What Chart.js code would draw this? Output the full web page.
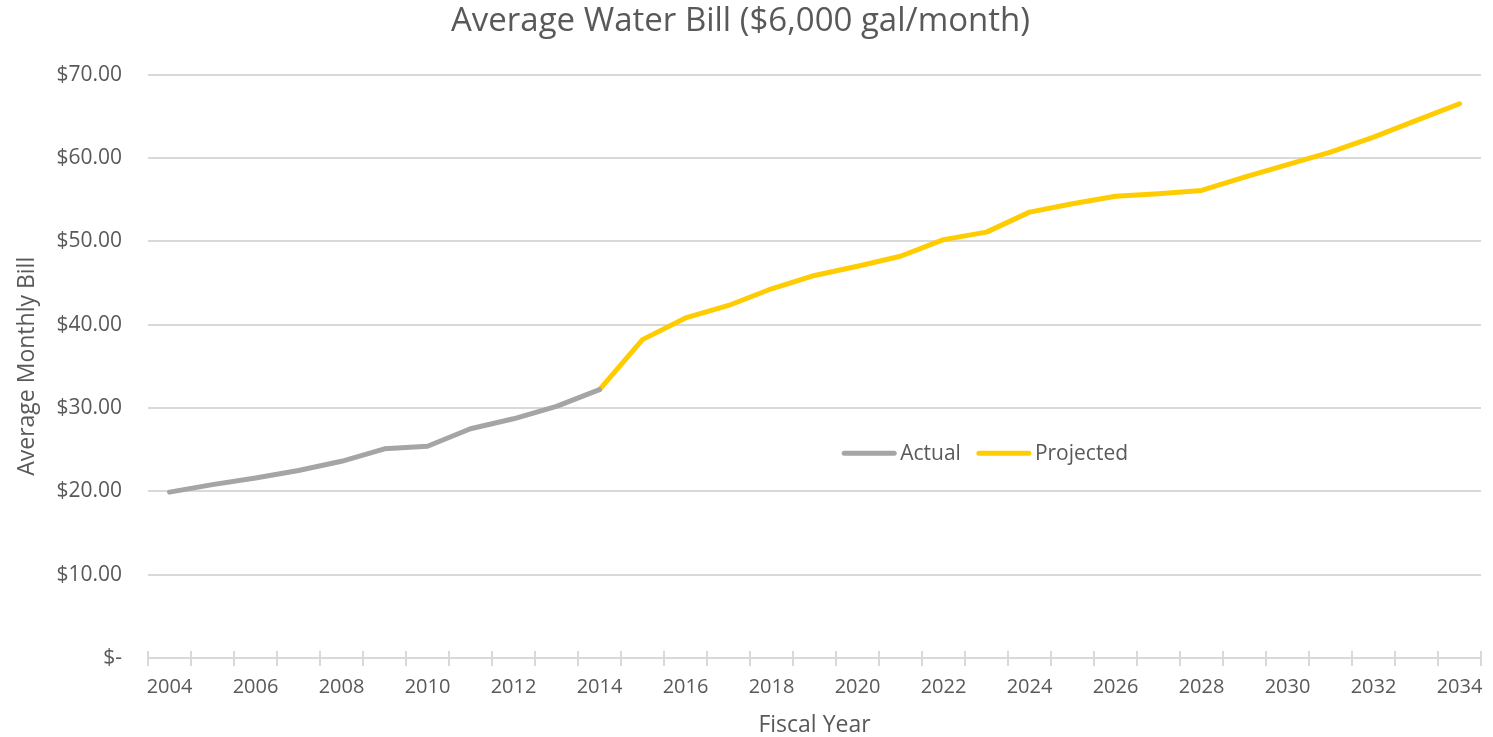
<!DOCTYPE html>
<html>
<head>
<meta charset="utf-8">
<script src="https://cdn.jsdelivr.net/npm/chart.js@4/dist/chart.umd.min.js"></script>
<style>
  html, body { margin: 0; padding: 0; background: #fff; }
  #wrap { width: 1493px; height: 737px; }
</style>
</head>
<body>
<div id="wrap"><canvas id="water-chart"></canvas></div>
<script>
// fiscal years on the x axis
const fiscalYears = ['2004', '2005', '2006', '2007', '2008', '2009', '2010', '2011', '2012', '2013',
    '2014', '2015', '2016', '2017', '2018', '2019', '2020', '2021', '2022', '2023', '2024',
    '2025', '2026', '2027', '2028', '2029', '2030', '2031', '2032', '2033', '2034'];

// actual bills, 2004 - 2014
const actualBill = [19.9, 20.8, 21.6, 22.5, 23.6, 25.1, 25.4, 27.5, 28.7, 30.2, 32.2,
    null, null, null, null, null, null, null, null, null, null,
    null, null, null, null, null, null, null, null, null, null];

// projected bills, 2014 - 2034
const projectedBill = [null, null, null, null, null, null, null, null, null, null, 32.2,
    38.2, 40.8, 42.3, 44.3, 45.9, 47.0, 48.2, 50.2, 51.1, 53.5,
    54.5, 55.4, 55.7, 56.1, 57.7, 59.2, 60.7, 62.5, 64.5, 66.5];

const seriesLabels = ['Actual', 'Projected'];

const textColor = '#595959';
const gridColor = '#D9D9D9';
const fontFamily = '"Open Sans", Lato, sans-serif';

// legend drawn inside the plot area, like the spreadsheet original
const innerLegend = {
    id: 'innerLegend',
    afterDraw(chart) {
        const ctx = chart.ctx;
        const area = chart.chartArea;
        const cx = area.left + (area.right - area.left) * 0.628;
        const cy = area.top + (area.bottom - area.top) * 0.649;
        const lineLen = 54;
        const gap = 4;
        const between = 16;

        ctx.save();
        ctx.font = '21px ' + fontFamily;
        ctx.textBaseline = 'middle';

        const items = chart.data.datasets.map(ds => ({
            label: ds.label,
            color: ds.borderColor,
            width: lineLen + gap + ctx.measureText(ds.label).width
        }));
        const total = items.reduce((sum, item) => sum + item.width, 0) + between * (items.length - 1);
        let x = cx - total / 2;

        items.forEach(item => {
            ctx.strokeStyle = item.color;
            ctx.lineWidth = 5;
            ctx.lineCap = 'round';
            ctx.beginPath();
            ctx.moveTo(x + 2, cy);
            ctx.lineTo(x + lineLen - 2, cy);
            ctx.stroke();
            ctx.fillStyle = textColor;
            ctx.fillText(item.label, x + lineLen + gap, cy + 1);
            x += item.width + between;
        });
        ctx.restore();
    }
};

// small tick marks that cross the x axis line
const crossTicks = {
    id: 'crossTicks',
    afterDatasetsDraw(chart) {
        const ctx = chart.ctx;
        const xScale = chart.scales.x;
        const y = chart.chartArea.bottom;
        const step = xScale.getPixelForValue(1) - xScale.getPixelForValue(0);

        ctx.save();
        ctx.strokeStyle = gridColor;
        ctx.lineWidth = 2;
        ctx.beginPath();
        for (let i = 0; i <= fiscalYears.length; i++) {
            const x = Math.round(xScale.getPixelForValue(0) - step / 2 + step * i);
            ctx.moveTo(x, y - 7);
            ctx.lineTo(x, y);
        }
        ctx.stroke();
        ctx.restore();
    }
};

const chart = new Chart(document.getElementById('water-chart').getContext('2d'), {
    type: 'line',
    data: {
        labels: fiscalYears,
        datasets: [{
            label: seriesLabels[0],
            data: actualBill,
            borderColor: '#A5A5A5',
            backgroundColor: '#A5A5A5',
            borderWidth: 5,
            borderCapStyle: 'round',
            borderJoinStyle: 'round',
            pointRadius: 0,
            tension: 0
        }, {
            label: seriesLabels[1],
            data: projectedBill,
            borderColor: '#FFCC00',
            backgroundColor: '#FFCC00',
            borderWidth: 5,
            borderCapStyle: 'round',
            borderJoinStyle: 'round',
            pointRadius: 0,
            tension: 0
        }]
    },
    options: {
        responsive: true,
        maintainAspectRatio: false,
        animation: false,
        layout: { padding: { left: 0, right: 12, top: 2, bottom: 0 } },
        plugins: {
            legend: { display: false },
            tooltip: { enabled: false },
            title: {
                display: true,
                text: 'Average Water Bill ($6,000 gal/month)',
                color: textColor,
                font: { family: fontFamily, size: 33, weight: 'normal' },
                padding: { top: 0, bottom: 33 }
            }
        },
        scales: {
            x: {
                offset: true,
                grid: {
                    offset: true,
                    drawOnChartArea: false,
                    color: gridColor,
                    tickLength: 8,
                    lineWidth: 2
                },
                border: { color: gridColor, width: 2 },
                ticks: {
                    autoSkip: false,
                    maxRotation: 0,
                    color: textColor,
                    padding: 9,
                    font: { family: fontFamily, size: 20 },
                    callback: (value, index) => index % 2 === 0 ? fiscalYears[index] : ''
                },
                title: {
                    display: true,
                    text: 'Fiscal Year',
                    color: textColor,
                    font: { family: fontFamily, size: 23, lineHeight: 1 },
                    padding: { top: 6, bottom: 0 }
                }
            },
            y: {
                min: 0,
                max: 70,
                afterFit: scale => { scale.width = 148; },
                grid: { color: gridColor, lineWidth: 2, drawTicks: false },
                border: { display: false },
                ticks: {
                    stepSize: 10,
                    color: textColor,
                    padding: 26,
                    font: { family: fontFamily, size: 21 },
                    callback: value => value === 0 ? '$-' : '$' + value.toFixed(2)
                },
                title: {
                    display: true,
                    text: 'Average Monthly Bill',
                    color: textColor,
                    font: { family: fontFamily, size: 23 },
                    padding: { top: 14, bottom: 0 }
                }
            }
        }
    },
    plugins: [innerLegend, crossTicks]
});
</script>
</body>
</html>
